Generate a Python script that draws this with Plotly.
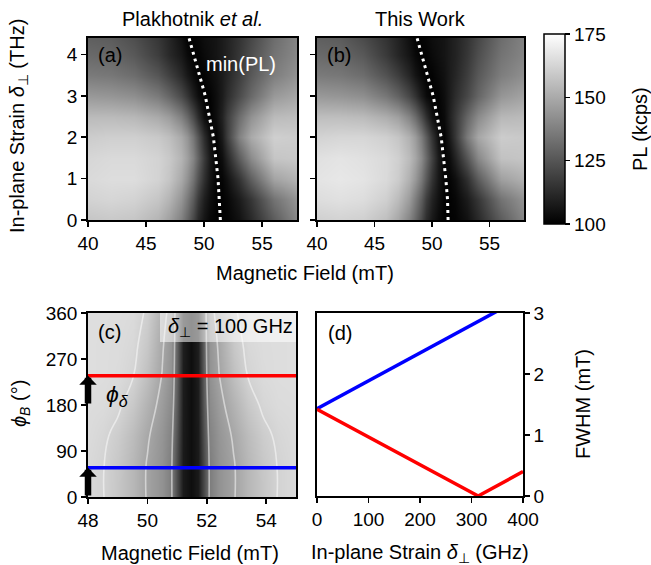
import plotly.graph_objects as go

# ---------------- data ----------------
# panels (a)/(b): PL (kcps) vs magnetic field (mT) and in-plane strain (THz)
field_ab = [40, 42, 44, 46, 47, 48, 48.5, 49, 49.5, 50, 50.5, 51, 51.5, 52, 53, 54, 56, 58]
strain_thz = [0, 0.5, 1, 1.5, 2, 2.5, 3, 3.5, 4, 4.4]

pl_a = [
    [158, 159, 158, 153, 147, 138, 130, 121, 112, 106, 102, 100.5, 100.5, 101, 105, 112, 127, 140],
    [162, 163, 162, 158, 153, 144, 136, 127, 117, 109, 104, 101, 100.5, 102, 108, 116, 134, 144],
    [164, 165, 165, 162, 158, 150, 143, 134, 124, 114, 106, 101, 101.5, 105, 115, 128, 148, 153],
    [163, 164, 164, 162, 159, 153, 147, 139, 129, 117, 107, 100.5, 104, 111, 127, 141, 158, 159],
    [160, 161, 161, 159, 156, 150, 144, 135, 125, 113, 104, 101, 108, 118, 138, 150, 161, 160],
    [155, 155, 154, 150, 146, 138, 131, 122, 113, 104, 100.5, 104, 110, 118, 132, 143, 155, 156],
    [145, 144, 142, 136, 130, 122, 116, 109, 104, 100.5, 101, 104, 108, 113, 122, 131, 145, 149],
    [136, 135, 132, 125, 119, 112, 107, 103, 100.5, 101, 103, 105, 108, 111, 118, 126, 137, 143],
    [131, 130, 126, 118, 112, 107, 103, 100.5, 101, 103, 104.5, 106, 108, 110, 116, 123, 134, 140],
    [128, 127, 123, 116, 111, 105, 101, 101, 102, 104, 105, 106, 108, 110, 115, 121, 132, 139],
]
pl_b = [
    [161, 162, 161, 156, 149, 139, 131, 122, 113, 107, 103, 100.5, 100.5, 101, 105, 112, 127, 139],
    [165, 166, 165, 161, 155, 146, 137, 128, 118, 110, 105, 101, 100.5, 102, 108, 116, 134, 143],
    [167, 168, 167, 164, 160, 152, 145, 136, 126, 115, 107, 101.5, 101, 104, 114, 127, 147, 152],
    [166, 167, 166, 164, 161, 155, 149, 141, 131, 119, 108, 101, 103, 110, 125, 140, 157, 158],
    [162, 163, 163, 161, 158, 152, 146, 137, 127, 115, 105, 101, 107, 116, 136, 149, 160, 159],
    [156, 156, 155, 151, 147, 139, 132, 123, 114, 105, 100.5, 103, 109, 116, 130, 141, 154, 155],
    [145, 144, 142, 135, 129, 121, 115, 108, 103, 100.5, 101, 104, 108, 113, 121, 130, 144, 148],
    [136, 135, 132, 124, 118, 111, 106, 102.5, 100.5, 101, 103, 105, 108, 111, 118, 126, 137, 142],
    [131, 130, 126, 117, 111, 106, 102.5, 100.5, 101, 103, 104.5, 106, 108, 110, 116, 123, 134, 139],
    [128, 127, 122, 115, 110, 104.5, 101, 101, 102, 104, 105, 106, 108, 110, 115, 121, 132, 138],
]
# min(PL) trace
minpl_strain = [0, 0.5, 1, 1.5, 2, 2.5, 3, 3.5, 4, 4.4]
minpl_field_a = [51.4, 51.3, 51.2, 51.0, 50.8, 50.45, 50.1, 49.6, 49.1, 48.7]
minpl_field_b = [51.4, 51.35, 51.2, 51.0, 50.8, 50.45, 50.1, 49.6, 49.1, 48.7]

# panel (c): relative PL (grey level) vs field (mT) and field angle phi_B (deg)
field_c = [48, 48.5, 49, 49.5, 50, 50.5, 50.8, 51.0, 51.2, 51.45, 51.7, 51.9, 52.1, 52.4, 52.9, 53.4, 53.9, 54.4, 55]
phi_b = [0, 60, 120, 180, 240, 300, 360]
pl_c = [
    [217, 211, 198, 183, 163, 146, 126, 75, 26, 14, 26, 75, 126, 146, 163, 183, 198, 211, 218],
    [217, 211, 199, 183, 163, 146, 126, 75, 26, 14, 26, 75, 126, 146, 163, 183, 199, 211, 218],
    [219, 214, 204, 188, 168, 149, 131, 82, 27, 14, 27, 82, 131, 149, 168, 188, 204, 214, 219],
    [220, 219, 214, 200, 179, 156, 139, 90, 28, 14, 28, 90, 139, 156, 179, 200, 214, 219, 220],
    [222, 221, 219, 212, 192, 164, 146, 95, 29, 14, 29, 95, 146, 164, 192, 212, 219, 221, 222],
    [222, 221, 220, 216, 200, 168, 149, 98, 30, 14, 30, 98, 149, 168, 200, 216, 220, 221, 222],
    [222, 222, 221, 219, 207, 176, 154, 100, 32, 14, 32, 100, 154, 176, 207, 219, 221, 222, 222],
]
phi_delta = 57          # blue line / arrow tip
phi_delta_opp = 237     # red line / arrow tip
delta_label = "100 GHz"

# panel (d): FWHM (mT) vs in-plane strain (GHz)
strain_blue = [0, 100, 200, 300, 400]
fwhm_blue = [1.43, 1.89, 2.35, 2.80, 3.26]
strain_red = [0, 100, 200, 313, 400]
fwhm_red = [1.42, 0.97, 0.52, 0.0, 0.40]

# tick labels
ticks_field_ab = [40, 45, 50, 55]
ticks_strain_thz = [0, 1, 2, 3, 4]
ticks_field_c = [48, 50, 52, 54]
ticks_phi = [0, 90, 180, 270, 360]
ticks_strain_ghz = [0, 100, 200, 300, 400]
ticks_fwhm = [0, 1, 2, 3]
ticks_cbar = [100, 125, 150, 175]

# ---------------- layout helpers ----------------
W, H = 651, 565
FONT = "Liberation Sans, Arial, sans-serif"
TICK = 19
TITLE = 20


def px(x):
    return x / W


def py(y):
    return 1 - y / H


def axis(**kw):
    d = dict(showline=True, linecolor="black", linewidth=1.8, mirror=True,
             ticks="outside", ticklen=5, tickwidth=1.6, tickcolor="black",
             showgrid=False, zeroline=False, fixedrange=True, automargin=False,
             tickfont=dict(size=TICK, color="black", family=FONT))
    d.update(kw)
    return d


fig = go.Figure()

# (a)
fig.add_trace(go.Heatmap(x=field_ab, y=strain_thz, z=pl_a, coloraxis="coloraxis",
                         zsmooth="best", hoverinfo="skip", xaxis="x", yaxis="y"))
fig.add_trace(go.Scatter(x=minpl_field_a, y=minpl_strain, mode="lines",
                         line=dict(color="white", width=3, dash="3px,4px"),
                         xaxis="x", yaxis="y", hoverinfo="skip"))
# (b)
fig.add_trace(go.Heatmap(x=field_ab, y=strain_thz, z=pl_b, coloraxis="coloraxis",
                         zsmooth="best", hoverinfo="skip", xaxis="x2", yaxis="y2"))
fig.add_trace(go.Scatter(x=minpl_field_b, y=minpl_strain, mode="lines",
                         line=dict(color="white", width=3, dash="3px,4px"),
                         xaxis="x2", yaxis="y2", hoverinfo="skip"))
# (c)
fig.add_trace(go.Heatmap(x=field_c, y=phi_b, z=pl_c, zmin=0, zmax=255,
                         colorscale=[[0, "black"], [1, "white"]], showscale=False,
                         zsmooth="best", hoverinfo="skip", xaxis="x3", yaxis="y3"))
fig.add_trace(go.Contour(x=field_c, y=phi_b, z=pl_c, showscale=False,
                         contours=dict(coloring="none", start=120, end=210, size=45),
                         line=dict(color="rgba(255,255,255,0.5)", width=1.6, smoothing=1.3),
                         hoverinfo="skip", xaxis="x3", yaxis="y3"))
fig.add_trace(go.Scatter(x=[field_c[0], field_c[-1]], y=[phi_delta_opp, phi_delta_opp],
                         mode="lines", line=dict(color="#ff0000", width=3.5),
                         xaxis="x3", yaxis="y3", hoverinfo="skip"))
fig.add_trace(go.Scatter(x=[field_c[0], field_c[-1]], y=[phi_delta, phi_delta],
                         mode="lines", line=dict(color="#0000ff", width=3.5),
                         xaxis="x3", yaxis="y3", hoverinfo="skip"))
# (d)
fig.add_trace(go.Scatter(x=strain_blue, y=fwhm_blue, mode="lines",
                         line=dict(color="#0000ff", width=3.5),
                         xaxis="x4", yaxis="y4", hoverinfo="skip"))
fig.add_trace(go.Scatter(x=strain_red, y=fwhm_red, mode="lines",
                         line=dict(color="#ff0000", width=3.5),
                         xaxis="x4", yaxis="y4", hoverinfo="skip"))

layout = dict(
    width=W, height=H, margin=dict(l=0, r=0, t=0, b=0, autoexpand=False),
    paper_bgcolor="white", plot_bgcolor="white", showlegend=False,
    font=dict(family=FONT, color="black", size=TICK),
    xaxis=axis(domain=[px(88), px(297)], range=[40, 58], tickvals=ticks_field_ab, anchor="y"),
    yaxis=axis(domain=[py(220), py(38)], range=[0, 4.4], tickvals=ticks_strain_thz, anchor="x"),
    xaxis2=axis(domain=[px(317), px(524)], range=[40, 58], tickvals=ticks_field_ab, anchor="y2"),
    yaxis2=axis(domain=[py(220), py(38)], range=[0, 4.4], tickvals=ticks_strain_thz,
                showticklabels=False, anchor="x2"),
    xaxis3=axis(domain=[px(88), px(296)], range=[48, 55], tickvals=ticks_field_c, anchor="y3"),
    yaxis3=axis(domain=[py(497), py(313)], range=[0, 360], tickvals=ticks_phi, anchor="x3"),
    xaxis4=axis(domain=[px(317), px(523)], range=[0, 400], tickvals=ticks_strain_ghz, anchor="y4"),
    yaxis4=axis(domain=[py(496), py(313)], range=[0, 3], tickvals=ticks_fwhm, side="right",
                anchor="x4"),
    coloraxis=dict(
        colorscale=[[0, "black"], [1, "white"]], cmin=100, cmax=175,
        colorbar=dict(x=px(544), xanchor="left", xpad=0, y=py(129), yanchor="middle", ypad=0,
                      len=190, lenmode="pixels", thickness=21, thicknessmode="pixels",
                      outlinewidth=1.5, outlinecolor="black", ticks="outside", ticklen=5,
                      tickwidth=1.5, tickcolor="black", tickvals=ticks_cbar,
                      tickfont=dict(size=TICK, family=FONT, color="black")),
    ),
)
fig.update_layout(**layout)


def ann(text, x, y, size=TITLE, angle=0, color="black", xanchor="center", **kw):
    d = dict(text=text, x=px(x), y=py(y), xref="paper", yref="paper", showarrow=False,
             xanchor=xanchor, yanchor="middle", textangle=angle,
             font=dict(size=size, color=color, family=FONT))
    d.update(kw)
    return d


annotations = [
    ann("Plakhotnik <i>et al.</i>", 192, 19),
    ann("This Work", 420, 19),
    ann("Magnetic Field (mT)", 305, 273),
    ann("In-plane Strain <i>δ</i><sub>⊥</sub> (THz)", 19, 126, angle=-90),
    ann("PL (kcps)", 640, 129, angle=-90),
    ann("(a)", 96, 55, xanchor="left"),
    ann("(b)", 325, 55, xanchor="left"),
    ann("min(PL)", 204, 64, color="white", xanchor="left"),
    ann("(c)", 96, 332, xanchor="left"),
    ann("(d)", 326, 333, xanchor="left"),
    ann("<i>δ</i><sub>⊥</sub> = " + delta_label, 295, 327, xanchor="right"),
    ann("<i>ϕ</i><sub><i>δ</i></sub>", 104, 395, size=23, xanchor="left"),
    ann("<i>ϕ</i><sub><i>B</i></sub> (°)", 20, 404, angle=-90),
    ann("Magnetic Field (mT)", 190, 553),
    ann("In-plane Strain <i>δ</i><sub>⊥</sub> (GHz)", 420, 553),
    ann("FWHM (mT)", 583, 404, angle=-90),
]
# phi_delta arrows
for tail, tip in [(0, phi_delta), (180, phi_delta_opp)]:
    annotations.append(dict(x=field_c[0], y=tip, ax=field_c[0], ay=tail,
                            xref="x3", yref="y3", axref="x3", ayref="y3",
                            text="", showarrow=True, arrowhead=1, arrowsize=0.45,
                            arrowwidth=6.5, arrowcolor="black", standoff=0))
fig.update_layout(annotations=annotations)

# translucent label box in (c)
fig.add_shape(type="rect", xref="paper", yref="paper", x0=px(160), x1=px(296),
              y0=py(342), y1=py(313), fillcolor="rgba(255,255,255,0.55)",
              line=dict(width=0), layer="above")

fig.write_html("out.html", config={"displayModeBar": False, "staticPlot": True},
               post_script="document.body.style.margin='0';document.body.style.overflow='hidden';")
